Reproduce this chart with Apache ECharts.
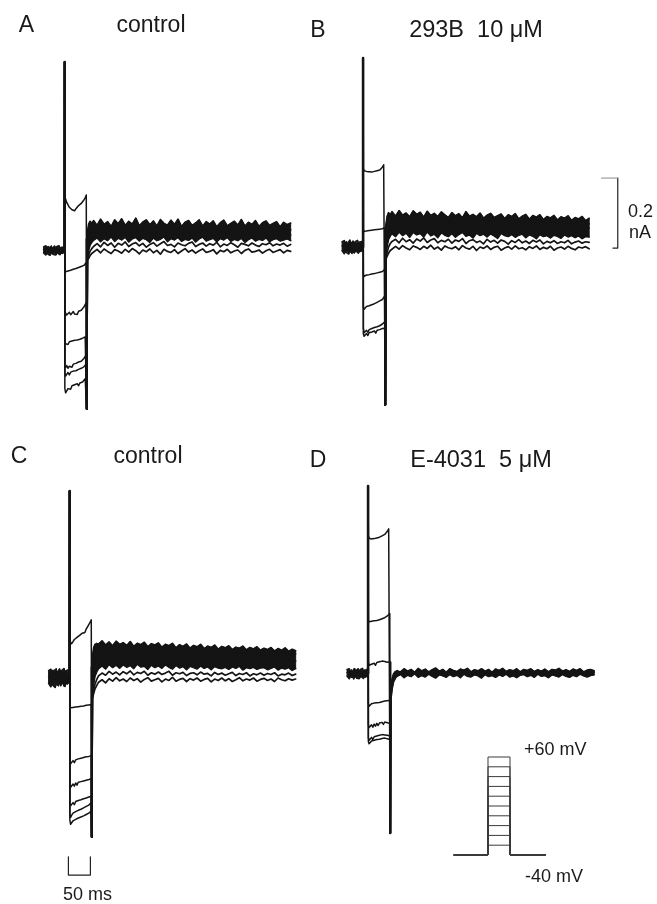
<!DOCTYPE html>
<html><head><meta charset="utf-8">
<script src="https://cdn.jsdelivr.net/npm/echarts@6/dist/echarts.min.js"></script>
<style>html,body{margin:0;padding:0;background:#fff}#c{width:657px;height:904px}</style>
</head><body><div id="c"></div>
<script>
// ---------------- DATA (time in ms, current in pA, voltage in mV) ----------------
const baseT = [-47.5,-45,-42.5,-40,-37.5,-35,-32.5,-30,-27.5,-25,-22.5,-20,-17.5,-15,-12.5,-10,-7.5,-5,-2.5,0];
const stepT = [0.8,2.5,5,8,11,14,17,20,23,26,29,32,35,38,41,44,47,49.5];
const tailT = [52,55,58,62,66,74,82,90,98,106,114,122,130,138,146,154,162,170,178,186,194,202,210,218,226,234,242,250,258,266,274,282,290,298,306,314,322,330,338,346,354,362,370,378,386,394,402,410,418,426,434,442,450,458,466,474,482,490,498,506,514];

const panelLetters = ['A','B','C','D'];
const panelTitles = ['control','293B  10 μM','control','E-4031  5 μM'];
const spikeTops = [537, 540, 534, 534];
const spikeBottoms = [-454, -451, -454, -457];

// Panel A
const aBase = [
  [9,6,12,4,10,2,9,13,5,8,11,3,10,6,12,4,9,7,11,5],
  [1,-3,2,-6,1,-4,3,-2,-7,0,-3,2,-5,1,-2,-6,0,-3,2,-1],
  [-8,-10,-14,-6,-12,-9,-15,-7,-11,-13,-8,-14,-10,-6,-12,-15,-9,-11,-7,-10]
];
const aStep = [
  [152,146,136,131,122,121,115,117,112,118,119,127,128,133,134,143,149,157],
  [-55,-62,-66,-60,-63,-58,-61,-55,-58,-53,-56,-50,-53,-47,-50,-44,-40,-36],
  [-172,-180,-186,-183,-178,-185,-180,-176,-183,-178,-184,-175,-180,-172,-170,-163,-156,-150],
  [-262,-268,-264,-270,-262,-266,-260,-265,-258,-263,-257,-261,-255,-258,-252,-255,-248,-244],
  [-330,-336,-330,-338,-332,-328,-335,-326,-331,-324,-329,-320,-325,-318,-314,-310,-305,-300],
  [-352,-360,-356,-350,-357,-349,-354,-346,-351,-345,-350,-341,-346,-338,-342,-334,-330,-325],
  [-395,-408,-404,-396,-392,-398,-388,-393,-385,-390,-382,-388,-380,-384,-377,-372,-368,-364]
];
const aTail = [
  [48,74,82,76, 84,70,88,73,81,67,86, 75,89,70,82,74,91,69,80,86,72, 83,68,87,76,71,85,73,88,67,79, 84,70,77,86,68,81,74,83,66,78, 85,69,76,82,71,87,68,79,73,84, 67,78,83,70,76,81,66,79,72,77],
  [22,56,66,60, 68,55,71,58,65,52,70, 60,54,69,57,64,51,67,59,71,55, 63,50,68,58,53,66,56,70,52,62, 57,66,51,64,59,54,68,55,62,50, 65,58,53,67,56,61,51,64,57,60, 52,63,56,59,50,62,55,60,51,58],
  [0,32,44,50, 46,55,41,52,44,57,40, 51,45,56,39,49,53,42,55,46,50, 41,54,47,38,52,44,56,40,49,45, 53,39,48,55,42,50,46,38,52,44, 49,41,54,45,40,51,47,43,53,39, 47,50,42,46,52,40,48,44,50,43],
  [-15,0,14,22, 28,35,24,33,27,38,25, 34,29,37,23,32,36,26,34,30,22, 35,27,31,38,24,33,29,36,25,31, 28,35,23,32,37,26,30,34,24,33, 29,36,25,31,27,34,22,30,35,26, 31,28,35,24,30,33,26,29,32,27],
  [-25,-14,-4,4, 10,18,9,22,13,20,8, 19,14,23,10,17,21,12,19,8,16, 21,11,18,24,13,16,9,20,15,12, 19,23,10,16,20,11,18,14,22,9, 17,13,21,15,8,19,16,12,20,14, 10,18,15,21,12,17,14,19,11,16],
  [-30,-24,-16,-10, -5,2,-8,3,-4,-10,1, -3,-9,2,-6,4,-2,-11,0,-5,3, -8,-1,-12,2,-4,-7,1,-10,-3,4, -6,0,-9,-2,3,-7,-4,1,-11,-1, -5,2,-8,-3,0,-10,-1,3,-6,-4, 0,-9,-2,2,-7,-3,1,-8,-1,-4]
];

// Panel B
const bBase = [
  [15,12,18,8,15,5,14,20,9,13,17,6,15,10,19,8,14,11,16,9],
  [3,-2,4,-6,2,-4,5,-1,-7,1,-3,3,-5,0,-2,-6,2,-3,3,0],
  [-11,-14,-19,-10,-16,-12,-20,-11,-15,-18,-9,-17,-13,-8,-16,-19,-12,-14,-10,-12]
];
const bStep = [
  [225,218,214,216,212,215,210,214,211,216,213,218,215,220,222,228,235,240],
  [50,44,42,46,43,47,44,48,45,49,46,50,47,51,49,52,54,55],
  [-78,-84,-82,-80,-85,-79,-83,-77,-81,-76,-80,-74,-78,-72,-74,-70,-67,-64],
  [-172,-178,-175,-170,-174,-168,-172,-165,-168,-162,-165,-158,-160,-154,-155,-150,-145,-140],
  [-232,-245,-242,-238,-244,-236,-240,-233,-238,-230,-235,-228,-232,-225,-228,-220,-217,-214],
  [-248,-255,-252,-247,-253,-245,-250,-243,-248,-240,-246,-238,-243,-236,-240,-233,-237,-232]
];
const bTail = [
  [62,88,98,92, 101,88,104,91,97,86,103, 93,99,85,102,90,96,87,100,92,84, 98,89,95,83,101,88,93,86,97,82, 91,96,84,89,94,81,92,87,95,80, 88,93,79,90,85,92,78,87,83,90, 77,86,82,89,76,84,80,87,75,82],
  [30,68,80,76, 84,71,87,74,82,69,86, 77,83,70,85,73,80,68,84,75,71, 82,69,78,86,72,76,67,83,74,79, 70,81,73,66,80,75,69,78,72,65, 77,71,79,66,74,70,78,64,73,69, 75,65,72,68,76,63,71,67,74,66],
  [0,40,58,62, 66,56,70,58,64,53,68, 60,65,54,69,57,62,52,67,59,55, 64,53,61,68,55,59,50,65,57,62, 53,60,56,49,63,54,58,51,61,55, 57,50,62,53,48,59,55,51,60,52, 56,49,58,53,50,57,51,55,48,54],
  [-20,5,22,32, 38,30,43,33,40,28,42, 35,39,29,44,32,37,27,41,34,30, 39,28,36,42,31,35,26,40,33,37, 29,38,32,25,39,33,30,36,28,34, 37,27,35,31,24,36,30,33,26,34, 31,25,35,29,33,27,32,24,30,29],
  [-30,-15,0,10, 16,22,12,25,15,21,11, 23,17,26,13,20,24,12,19,15,22, 11,20,16,24,10,18,21,13,17,9, 22,14,19,11,20,16,8,18,13,21, 12,17,10,19,14,20,9,16,12,18, 10,15,12,19,9,14,17,11,15,13],
  [-35,-26,-18,-10, -5,2,-6,4,-3,-8,3, -1,-7,2,-4,5,-6,0,-9,3,-2, -5,1,-8,4,-3,-6,2,-10,0,-4, 3,-7,-1,2,-9,-3,1,-6,3,-5, -2,-8,1,-4,3,-7,-1,-5,2,-9, -3,0,-6,2,-4,-8,0,-3,1,-5]
];

// Panel C
const cBase = [
  [21,18,25,14,22,12,24,28,15,20,26,13,22,17,27,14,21,16,24,15],
  [3,0,6,-5,3,-3,7,-1,-6,2,-2,5,-4,1,-3,-6,3,-2,4,0],
  [-15,-18,-25,-14,-21,-16,-27,-13,-20,-24,-12,-22,-17,-11,-23,-26,-15,-19,-13,-16]
];
const cStep = [
  [105,100,98,104,110,108,116,114,122,120,128,132,130,140,146,150,160,166],
  [-85,-90,-88,-84,-89,-83,-87,-82,-86,-81,-85,-80,-83,-78,-81,-77,-79,-76],
  [-238,-245,-240,-236,-242,-234,-238,-231,-236,-229,-233,-227,-231,-225,-228,-224,-226,-222],
  [-305,-312,-308,-303,-309,-300,-306,-298,-303,-296,-301,-294,-298,-292,-296,-290,-292,-288],
  [-358,-365,-360,-356,-362,-353,-358,-350,-355,-348,-353,-345,-350,-343,-347,-340,-343,-338],
  [-390,-398,-392,-386,-390,-382,-386,-378,-382,-375,-378,-371,-374,-367,-370,-363,-360,-356],
  [-405,-418,-414,-408,-412,-404,-408,-400,-404,-397,-401,-394,-398,-390,-393,-386,-384,-380]
];
const cTail = [
  [58,86,96,100, 97,106,94,103,92,105,96, 101,93,104,90,99,95,102,89,98,94, 100,88,96,92,99,86,95,90,97,85, 93,89,96,84,91,87,94,82,90,86, 92,81,88,85,91,80,87,83,89,79, 85,81,87,77,84,79,86,76,82,78],
  [20,62,76,82, 86,77,89,79,84,74,88, 80,85,75,87,78,83,73,86,79,76, 84,74,81,86,72,80,77,83,71,79, 75,82,70,78,74,81,69,77,73,67, 79,71,76,68,77,72,66,75,70,74, 65,72,68,74,64,71,67,73,63,69],
  [-10,26,46,56, 62,55,67,58,64,53,66, 60,56,65,52,62,58,50,64,55,61, 57,63,51,59,54,62,49,58,55,52, 60,50,56,53,59,48,55,51,57,47, 54,50,56,46,53,49,55,45,52,48, 51,46,53,48,44,52,47,50,45,49],
  [-40,-14,6,18, 27,35,26,39,30,37,28, 38,31,36,27,40,32,34,25,37,30, 35,28,38,31,26,36,29,33,24,34, 30,26,35,28,32,24,33,29,27,31, 25,32,28,34,23,30,27,31,25,29, 30,24,28,32,23,29,26,30,22,27],
  [-55,-34,-17,-4, 6,14,8,19,11,17,9, 18,12,20,9,16,13,19,8,15,11, 17,10,14,19,8,15,12,16,7,13, 15,9,17,11,13,6,16,10,14,8, 12,16,7,13,10,15,6,12,9,14, 8,13,10,15,6,11,9,14,7,11],
  [-60,-44,-31,-21, -12,-5,-14,-2,-9,1,-8, -3,-10,0,-7,-2,-12,-4,1,-9,-5, -1,-11,-3,-7,2,-9,-4,-1,-10,-2, -6,0,-9,-4,-1,-11,-3,-7,0,-8, -2,-10,-5,1,-8,-3,-6,0,-9,-4, -1,-7,-3,-10,0,-5,-8,-2,-6,-3]
];

// Panel D
const dBase = [
  [10,8,12,5,10,3,11,14,6,9,12,4,10,7,13,5,10,8,12,6],
  [1,-3,2,-6,1,-4,3,-2,-7,0,-3,2,-5,1,-2,-6,0,-3,2,-1],
  [-9,-12,-16,-9,-14,-10,-17,-8,-13,-15,-10,-16,-11,-8,-14,-17,-10,-13,-9,-11]
];
const dStep = [
  [392,385,380,383,378,384,379,386,381,388,384,392,388,396,400,405,412,417],
  [152,146,142,148,143,149,144,150,146,152,148,155,152,158,160,163,166,170],
  [30,22,18,25,20,28,22,30,26,32,28,34,30,33,28,31,30,32],
  [-88,-95,-92,-88,-93,-86,-91,-85,-89,-84,-88,-82,-86,-80,-84,-79,-82,-78],
  [-148,-156,-152,-148,-155,-146,-152,-144,-150,-143,-148,-141,-147,-140,-145,-142,-146,-144],
  [-186,-192,-188,-184,-190,-182,-186,-180,-184,-178,-182,-176,-181,-177,-182,-178,-181,-180],
  [-196,-202,-198,-194,-199,-192,-196,-190,-194,-189,-193,-187,-191,-186,-190,-188,-192,-190]
];
const dTail = [
  [-40,-16,-3,4, 8,3,12,5,10,2,13, 6,11,3,9,14,5,10,2,12,7, 4,11,8,13,3,9,6,12,5,10, 2,11,7,13,4,9,6,12,3,10, 7,12,4,9,5,11,3,10,8,13, 5,9,4,11,7,12,3,8,10,6],
  [-60,-30,-15,-7, -2,3,-4,5,-1,2,-5, 4,-2,1,-6,3,-1,5,-3,0,-4, 2,-5,4,-1,1,-3,5,-2,0,-6, 3,-1,-4,2,0,-5,4,-2,1,-3, -1,3,-4,1,-2,5,-3,0,2,-5, 1,-2,4,-4,0,3,-3,1,-1,2],
  [-75,-44,-25,-15, -9,-4,-13,-6,-10,-2,-12, -7,-11,-3,-9,-14,-5,-8,-12,-4,-10, -6,-13,-3,-9,-11,-5,-8,-14,-4,-10, -7,-12,-5,-9,-3,-11,-8,-13,-6,-4, -10,-6,-12,-3,-9,-7,-13,-5,-8,-11, -4,-9,-12,-6,-10,-3,-8,-11,-7,-5]
];

// Voltage protocol (mV, ms)
const holdingPotential = -40;
const testPotentials = [-30,-20,-10,0,10,20,30,40,50,60];
const protocolTimes = [-77, 0, 50, 130];   // start, step on, step off, end
const protocolLabels = ['+60 mV','-40 mV'];

// Scale bars
const currentBar = 200;   // pA (0.2 nA)
const timeBar = 50;       // ms
const currentBarLabel = ['0.2','nA'];
const timeBarLabel = '50 ms';

// ---------------- LAYOUT ----------------
const PX_MS = 0.44, PX_PA = 0.35;
const T_MIN = -50, T_MAX = 600, I_MIN = -600, I_MAX = 600;
const origins = [ {t0:64.5, y0:250}, {t0:363, y0:247}, {t0:69.5, y0:678}, {t0:368, y0:673} ];
const panelData = [
  {base:aBase, step:aStep, tail:aTail},
  {base:bBase, step:bStep, tail:bTail},
  {base:cBase, step:cStep, tail:cTail},
  {base:dBase, step:dStep, tail:dTail}
];
const INK = '#141414';
const FONT = '"Liberation Sans", Arial, Helvetica, sans-serif';

const zip = (xs, ys) => { const n = Math.min(xs.length, ys.length); const o = []; for (let i = 0; i < n; i++) o.push([xs[i], ys[i]]); return o; };

const grids = [], xAxes = [], yAxes = [], series = [];
function addLine(gi, data, width, color) {
  series.push({
    type: 'line', xAxisIndex: gi, yAxisIndex: gi, data: data, symbol: 'none', showSymbol: false,
    silent: true, animation: false, clip: false,
    lineStyle: { color: color || INK, width: width, join: 'round', cap: 'round' }
  });
}
// dense noisy band: polygon between two recorded traces, placed through the axes
function addBand(gi, xs, upper, lower) {
  const n = Math.min(xs.length, upper.length, lower.length);
  const pts = [];
  for (let i = 0; i < n; i++) pts.push([xs[i], upper[i]]);
  for (let i = n - 1; i >= 0; i--) pts.push([xs[i], lower[i]]);
  series.push({
    type: 'custom', xAxisIndex: gi, yAxisIndex: gi, silent: true, animation: false, clip: false,
    data: pts,
    renderItem: (params, api) => {
      if (params.dataIndex !== 0) return null;
      return { type: 'polygon', shape: { points: pts.map(p => api.coord(p)) },
               style: { fill: INK, stroke: INK, lineWidth: 1, lineJoin: 'round' } };
    }
  });
}

origins.forEach((o, p) => {
  grids.push({ left: o.t0 + T_MIN * PX_MS, top: o.y0 - I_MAX * PX_PA,
               width: (T_MAX - T_MIN) * PX_MS, height: (I_MAX - I_MIN) * PX_PA });
  xAxes.push({ gridIndex: p, type: 'value', min: T_MIN, max: T_MAX, show: false });
  yAxes.push({ gridIndex: p, type: 'value', min: I_MIN, max: I_MAX, show: false });
  const d = panelData[p], top = spikeTops[p], bot = spikeBottoms[p];
  addBand(p, baseT, d.base[0], d.base[d.base.length - 1]);
  d.base.forEach(b => addLine(p, zip(baseT, b), 1.6));
  d.step.forEach(s => addLine(p, [[0, 0], [0.3, top]].concat(zip(stepT, s), [[50.3, bot]]), 1.5));
  addBand(p, tailT, d.tail[0], d.tail[Math.min(3, d.tail.length - 1)]);
  d.tail.forEach(t => addLine(p, [[50.8, bot]].concat(zip(tailT, t)), 1.7));
  addLine(p, [[0.2, 0], [0.2, top]], 2.6);
  addLine(p, [[50.6, 30], [50.6, bot]], 2.4);
});

// protocol inset grid (index 4)
const pO = { t0: 488, v0: 855 }, PX_MV = 0.98;
grids.push({ left: pO.t0 - 80 * PX_MS, top: pO.v0 - 110 * PX_MV, width: 220 * PX_MS, height: 120 * PX_MV });
xAxes.push({ gridIndex: 4, type: 'value', min: -80, max: 140, show: false });
yAxes.push({ gridIndex: 4, type: 'value', min: -50, max: 70, show: false });
testPotentials.forEach(v => addLine(4, [
  [protocolTimes[0], holdingPotential], [protocolTimes[1], holdingPotential], [protocolTimes[1], v],
  [protocolTimes[2], v], [protocolTimes[2], holdingPotential], [protocolTimes[3], holdingPotential]
], 1, '#3a3a3a'));

// current scale bar in panel B grid
const barT = 579, barBase = -3;
addLine(1, [[barT, barBase + currentBar], [barT, barBase], [barT - 11, barBase]], 1.2, '#222');
addLine(1, [[barT - 37, barBase + currentBar], [barT, barBase + currentBar]], 1, '#8a8a8a');
// time scale bar in panel C grid
const tbStart = -2.5, tbTop = -511, tbBottom = -563;
addLine(2, [[tbStart, tbTop], [tbStart, tbBottom], [tbStart + timeBar, tbBottom], [tbStart + timeBar, tbTop]], 1.2, '#222');

// ---------------- TEXT ----------------
const txt = (x, y, text, size, align) => ({
  type: 'text', x: x, y: y, silent: true,
  style: { text: text, fill: '#1a1a1a', font: size + 'px ' + FONT,
           textAlign: align || 'center', textVerticalAlign: 'middle', align: align || 'center', verticalAlign: 'middle' }
});
const graphic = [
  txt(26.5, 26, panelLetters[0], 23), txt(151, 26, panelTitles[0], 23),
  txt(318, 31, panelLetters[1], 23), txt(476, 31, panelTitles[1], 23.5),
  txt(19, 457, panelLetters[2], 23), txt(148, 457, panelTitles[2], 23),
  txt(318, 461, panelLetters[3], 23), txt(481, 461, panelTitles[3], 23.5),
  txt(628, 212, currentBarLabel[0], 18, 'left'), txt(629, 233, currentBarLabel[1], 18, 'left'),
  txt(524, 750, protocolLabels[0], 18, 'left'), txt(525, 877, protocolLabels[1], 18, 'left'),
  txt(87.5, 895, timeBarLabel, 18)
];

const chart = echarts.init(document.getElementById('c'), null, { renderer: 'canvas' });
chart.setOption({
  animation: false, backgroundColor: '#ffffff',
  grid: grids, xAxis: xAxes, yAxis: yAxes, series: series, graphic: graphic
});
</script></body></html>
